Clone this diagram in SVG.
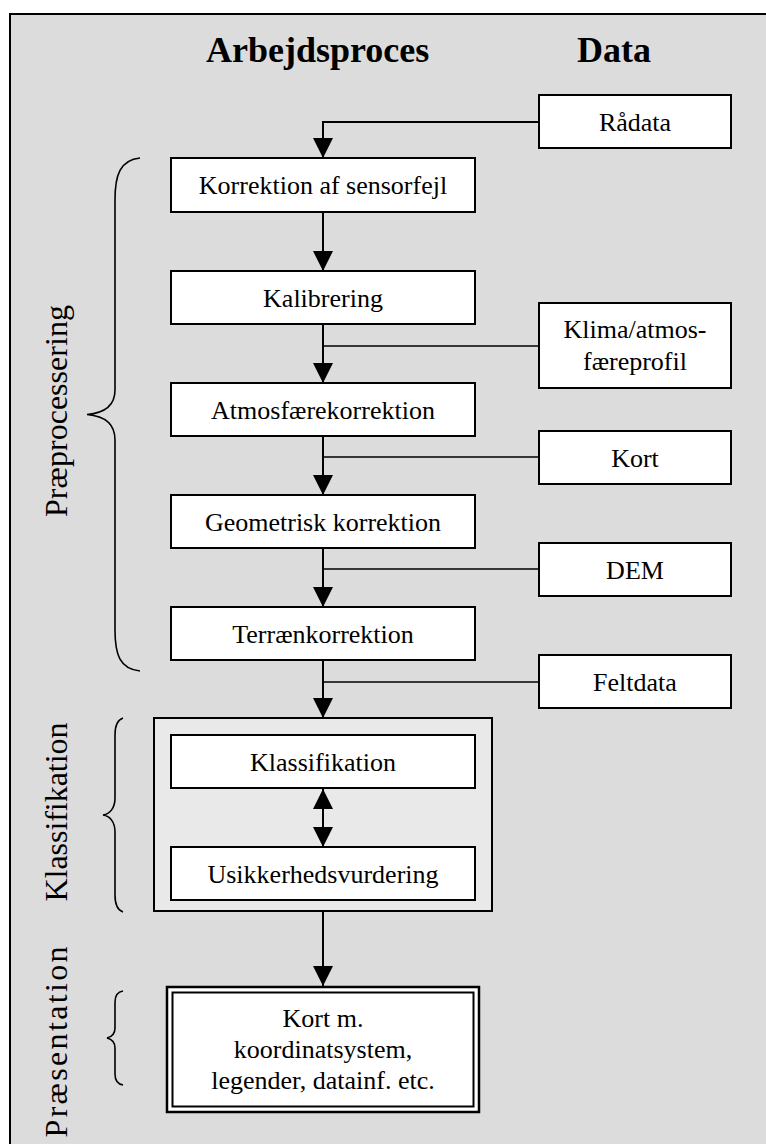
<svg xmlns="http://www.w3.org/2000/svg" width="766" height="1144" viewBox="0 0 766 1144">
<defs>
<style>
text{font-family:"Liberation Serif","Times New Roman",serif;fill:#000}
.t{font-size:26px;text-anchor:middle}
.h{font-size:36px;font-weight:bold}
.r{font-size:32px;text-anchor:middle}
.box{fill:#fff;stroke:#000;stroke-width:2}
.ln{fill:none;stroke:#000;stroke-width:2}
.jn{fill:none;stroke:#000;stroke-width:1.5}
.br{fill:none;stroke:#000;stroke-width:1.6}
</style>
<marker id="ah" markerUnits="userSpaceOnUse" markerWidth="20" markerHeight="20" viewBox="0 0 20 20" refX="20" refY="10" orient="auto">
<path d="M0,0 L20,10 L0,20 Z" fill="#000"/>
</marker>
</defs>
<rect x="0" y="0" width="766" height="1144" fill="#fff"/>
<rect x="10" y="14" width="770" height="1150" fill="#dcdcdc" stroke="#000" stroke-width="2"/>
<text class="h" x="206" y="62">Arbejdsproces</text>
<text class="h" x="577" y="62">Data</text>
<g id="labels">
<text class="r" transform="translate(67,411) rotate(-90)" textLength="212">Præprocessering</text>
<text class="r" transform="translate(67,812) rotate(-90)" textLength="179">Klassifikation</text>
<text class="r" transform="translate(67,1042) rotate(-90)" textLength="191">Præsentation</text>
</g>
<g id="braces">
<path class="br" d="M140,158 C120,160 115,175 115,200 L115,390 C115,405 105,413 87,414.5 C105,416 115,424 115,440 L115,630 C115,655 120,669 140,671"/>
<path class="br" d="M123,718 C117,720 115,726 115,735 L115,798 C115,808 110,814 103,815 C110,816 115,822 115,832 L115,895 C115,904 117,910 123,912"/>
<path class="br" d="M123,991 C117,992 115,996 115,1002 L115,1028 C115,1034 111,1037 107,1038 C111,1039 115,1042 115,1048 L115,1074 C115,1080 117,1084 123,1085"/>
</g>
<g id="group-klass">
<rect x="154" y="718" width="338" height="193" fill="#e9e9e9" stroke="#000" stroke-width="2"/>
</g>
<g id="connectors">
<polyline class="ln" points="539,122 323,122 323,158" marker-end="url(#ah)"/>
<line class="ln" x1="323" y1="212" x2="323" y2="271" marker-end="url(#ah)"/>
<line class="ln" x1="323" y1="324" x2="323" y2="383" marker-end="url(#ah)"/>
<line class="jn" x1="539" y1="346" x2="323" y2="346"/>
<line class="ln" x1="323" y1="436" x2="323" y2="495" marker-end="url(#ah)"/>
<line class="jn" x1="539" y1="457" x2="323" y2="457"/>
<line class="ln" x1="323" y1="548" x2="323" y2="607" marker-end="url(#ah)"/>
<line class="jn" x1="539" y1="569" x2="323" y2="569"/>
<line class="ln" x1="323" y1="660" x2="323" y2="718" marker-end="url(#ah)"/>
<line class="jn" x1="539" y1="682" x2="323" y2="682"/>
<line class="ln" x1="323" y1="800" x2="323" y2="789" marker-end="url(#ah)"/>
<line class="ln" x1="323" y1="800" x2="323" y2="847" marker-end="url(#ah)"/>
<line class="ln" x1="323" y1="911" x2="323" y2="986" marker-end="url(#ah)"/>
</g>
<g id="n-korrektion"><rect class="box" x="171" y="158" width="304" height="54"/><text class="t" x="323" y="194">Korrektion af sensorfejl</text></g>
<g id="n-kalibrering"><rect class="box" x="171" y="271" width="304" height="53"/><text class="t" x="323" y="307">Kalibrering</text></g>
<g id="n-atmos"><rect class="box" x="171" y="383" width="304" height="53"/><text class="t" x="323" y="419">Atmosfærekorrektion</text></g>
<g id="n-geom"><rect class="box" x="171" y="495" width="304" height="53"/><text class="t" x="323" y="531">Geometrisk korrektion</text></g>
<g id="n-terraen"><rect class="box" x="171" y="607" width="304" height="53"/><text class="t" x="323" y="643">Terrænkorrektion</text></g>
<g id="n-klass"><rect class="box" x="171" y="735" width="304" height="53"/><text class="t" x="323" y="771">Klassifikation</text></g>
<g id="n-usikker"><rect class="box" x="171" y="847" width="304" height="53"/><text class="t" x="323" y="883">Usikkerhedsvurdering</text></g>
<g id="n-kortm">
<rect x="167" y="987" width="312" height="125" fill="#fff" stroke="#000" stroke-width="2.5"/>
<rect x="172.5" y="992.5" width="301" height="114" fill="none" stroke="#000" stroke-width="2"/>
<text class="t" x="323" y="1027">Kort m.</text>
<text class="t" x="323" y="1058">koordinatsystem,</text>
<text class="t" x="323" y="1089">legender, datainf. etc.</text>
</g>
<g id="n-raadata"><rect class="box" x="539" y="95" width="192" height="53"/><text class="t" x="635" y="131">Rådata</text></g>
<g id="n-klima"><rect class="box" x="539" y="303" width="192" height="85"/><text class="t" x="635" y="338">Klima/atmos-</text><text class="t" x="635" y="370">færeprofil</text></g>
<g id="n-kort"><rect class="box" x="539" y="431" width="192" height="53"/><text class="t" x="635" y="467">Kort</text></g>
<g id="n-dem"><rect class="box" x="539" y="543" width="192" height="53"/><text class="t" x="635" y="579">DEM</text></g>
<g id="n-feltdata"><rect class="box" x="539" y="655" width="192" height="53"/><text class="t" x="635" y="691">Feltdata</text></g>
</svg>
